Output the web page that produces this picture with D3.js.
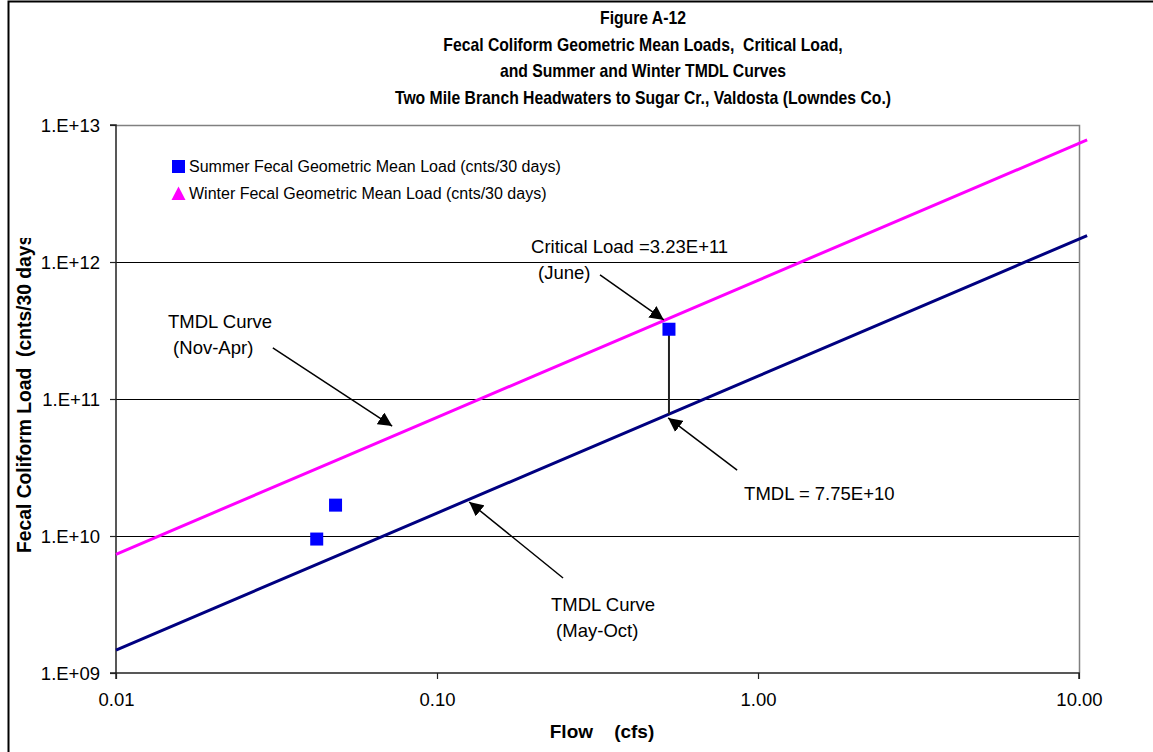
<!DOCTYPE html>
<html><head><meta charset="utf-8">
<script src="https://cdn.jsdelivr.net/npm/d3@7"></script>
<style>
body{margin:0;background:#fff;}
text{font-family:"Liberation Sans",Arial,sans-serif;fill:#000;}
</style></head>
<body><svg id="c" width="1153" height="752"></svg>
<script>
// ---- data ----
const titleLines = ["Figure A-12","Fecal Coliform Geometric Mean Loads,  Critical Load,","and Summer and Winter TMDL Curves","Two Mile Branch Headwaters to Sugar Cr., Valdosta (Lowndes Co.)"];
const xTicks = [0.01, 0.1, 1, 10];
const xTickLabels = ["0.01","0.10","1.00","10.00"];
const yTicks = [1e9, 1e10, 1e11, 1e12, 1e13];
const yTickLabels = ["1.E+09","1.E+10","1.E+11","1.E+12","1.E+13"];
const curveFlow   = [0.01, 0.02, 0.05, 0.1, 0.2, 0.5, 1, 2, 5, 10.6];
const summerTMDL  = [1.47e9, 2.94e9, 7.35e9, 1.47e10, 2.94e10, 7.35e10, 1.47e11, 2.94e11, 7.35e11, 1.56e12];
const winterTMDL  = [7.35e9, 1.47e10, 3.67e10, 7.35e10, 1.47e11, 3.67e11, 7.35e11, 1.47e12, 3.67e12, 7.79e12];
const summerFlow  = [0.0422, 0.0483, 0.528];
const summerLoad  = [9.5e9, 1.68e10, 3.23e11];
const winterFlow  = [];
const winterLoad  = [];
const criticalFlow = 0.528, criticalLoad = 3.23e11, tmdlLoad = 7.75e10;
const legendLabels = ["Summer Fecal Geometric Mean Load (cnts/30 days)","Winter Fecal Geometric Mean Load (cnts/30 days)"];
// annotations: text lines anchored at [flow, load]; arrows from [flow,load] to [flow,load]
const notes = [
  {lines:["TMDL Curve"," (Nov-Apr)"], at:[0.01452, 3.30e11]},
  {lines:["Critical Load =3.23E+11","(June)"], at:[0.1963, 1.164e12], dx2:7},
  {lines:["TMDL = 7.75E+10"], at:[0.905, 1.83e10]},
  {lines:["TMDL Curve"," (May-Oct)"], at:[0.2265, 2.84e9]}
];
const arrows = [
  {from:[0.0308, 2.36e11], to:[0.0725, 6.35e10]},
  {from:[0.322, 8.04e11], to:[0.509, 3.78e11]},
  {from:[0.861, 3.03e10], to:[0.525, 7.27e10]},
  {from:[0.247, 4.94e9],  to:[0.126, 1.77e10]}
];

// ---- layout ----
const svg = d3.select("#c");
const L=116, R=1079, T=125, B=673;
const x = d3.scaleLog().domain([0.01,10]).range([L,R]);
const y = d3.scaleLog().domain([1e9,1e13]).range([B,T]);

// outer frame
svg.append("rect").attr("x",8.5).attr("y",1.5).attr("width",2000).attr("height",2000)
  .attr("fill","none").attr("stroke","#000").attr("stroke-width",2);

// title
svg.append("g").selectAll("text").data(titleLines).join("text")
  .attr("transform",(d,i)=>`translate(643,${24+i*26.7}) scale(0.9,1)`).attr("text-anchor","middle")
  .attr("xml:space","preserve")
  .style("font-weight","bold").style("font-size","17.5px").text(d=>d);

// gridlines
svg.append("g").selectAll("line").data(yTicks.slice(1,4)).join("line")
  .attr("x1",L).attr("x2",R).attr("y1",d=>Math.round(y(d))+0.5).attr("y2",d=>Math.round(y(d))+0.5)
  .attr("stroke","#000").attr("stroke-width",1);
// plot border top & right (gray)
svg.append("path").attr("d",`M${L},${T+0.5}H${R+0.5}V${B}`).attr("fill","none").attr("stroke","#808080").attr("stroke-width",1.5);

// axes
const yAxis = d3.axisLeft(y).tickValues(yTicks).tickFormat((d,i)=>yTickLabels[i]).tickSize(6).tickPadding(10);
const gy = svg.append("g").attr("transform",`translate(${L},0)`).call(yAxis);
const xAxis = d3.axisBottom(x).tickValues(xTicks).tickFormat((d,i)=>xTickLabels[i]).tickSize(6).tickPadding(10);
const gx = svg.append("g").attr("transform",`translate(0,${B})`).call(xAxis);
[gx,gy].forEach(g=>{
  g.select(".domain").attr("stroke","#222").attr("stroke-width",1.5);
  g.selectAll(".tick line").attr("stroke","#222").attr("stroke-width",1.2);
  g.selectAll(".tick text").style("font-family","Liberation Sans, Arial, sans-serif").style("font-size","18.5px").attr("fill","#000");
});
gy.select(".domain").attr("d",`M-6,${B}H0V${T}H-6`);
gx.select(".domain").attr("d",`M${L},6V0H${R}V6`);
gy.selectAll(".tick text").attr("dy","0.35em");
gx.selectAll(".tick text").attr("dy","0.9em");

// axis titles
svg.append("text").attr("x",602).attr("y",738).attr("text-anchor","middle")
  .style("font-weight","bold").style("font-size","19px").attr("xml:space","preserve").text("Flow    (cfs)");
svg.append("clipPath").attr("id","yclip").append("rect").attr("x",0).attr("y",238).attr("width",60).attr("height",500);
svg.append("g").attr("clip-path","url(#yclip)").append("text")
  .attr("transform","translate(31,553) rotate(-90)").attr("text-anchor","start")
  .style("font-weight","bold").style("font-size","19.3px").attr("xml:space","preserve")
  .text("Fecal Coliform Load  (cnts/30 days)");

// curves
const line = d3.line().x(d=>x(d[0])).y(d=>y(d[1]));
svg.append("path").datum(curveFlow.map((f,i)=>[f,winterTMDL[i]])).attr("d",line)
  .attr("fill","none").attr("stroke","#FF00FF").attr("stroke-width",3);
svg.append("path").datum(curveFlow.map((f,i)=>[f,summerTMDL[i]])).attr("d",line)
  .attr("fill","none").attr("stroke","#000080").attr("stroke-width",3);

// critical to TMDL connector
svg.append("line").attr("x1",x(criticalFlow)).attr("x2",x(criticalFlow))
  .attr("y1",y(criticalLoad)).attr("y2",y(tmdlLoad)).attr("stroke","#222").attr("stroke-width",2);

// markers
const ms=13;
svg.append("g").selectAll("rect").data(summerFlow.map((f,i)=>[f,summerLoad[i]])).join("rect")
  .attr("x",d=>x(d[0])-ms/2).attr("y",d=>y(d[1])-ms/2).attr("width",ms).attr("height",ms).attr("fill","#0000FF");
svg.append("g").selectAll("path").data(winterFlow.map((f,i)=>[f,winterLoad[i]])).join("path")
  .attr("transform",d=>`translate(${x(d[0])},${y(d[1])})`).attr("d",d3.symbol(d3.symbolTriangle,100)).attr("fill","#FF00FF");

// legend
const lg = svg.append("g");
lg.append("rect").attr("x",172).attr("y",160).attr("width",13).attr("height",13).attr("fill","#0000FF");
lg.append("path").attr("d","M178.5,186.5L185.5,200L171.5,200Z").attr("fill","#FF00FF");
lg.selectAll("text").data(legendLabels).join("text").attr("x",189).attr("y",(d,i)=>172+i*27)
  .style("font-size","16px").text(d=>d);

// annotations
notes.forEach(n=>{
  const t = svg.append("text").style("font-size","18.5px").attr("xml:space","preserve");
  n.lines.forEach((s,i)=>{
    t.append("tspan").attr("x",x(n.at[0])+(i>0&&n.dx2?n.dx2:0)).attr("y",y(n.at[1])+i*26.5).text(s);
  });
});
// arrows
const defs = svg.append("defs");
defs.append("marker").attr("id","ah").attr("viewBox","0 0 10 10").attr("refX",10).attr("refY",5)
  .attr("markerWidth",14).attr("markerHeight",14).attr("markerUnits","userSpaceOnUse").attr("orient","auto")
  .append("path").attr("d","M0,0L10,5L0,10Z").attr("fill","#000");
svg.append("g").selectAll("line").data(arrows).join("line")
  .attr("x1",d=>x(d.from[0])).attr("y1",d=>y(d.from[1]))
  .attr("x2",d=>x(d.to[0])).attr("y2",d=>y(d.to[1]))
  .attr("stroke","#000").attr("stroke-width",1.5).attr("marker-end","url(#ah)");
</script></body></html>
